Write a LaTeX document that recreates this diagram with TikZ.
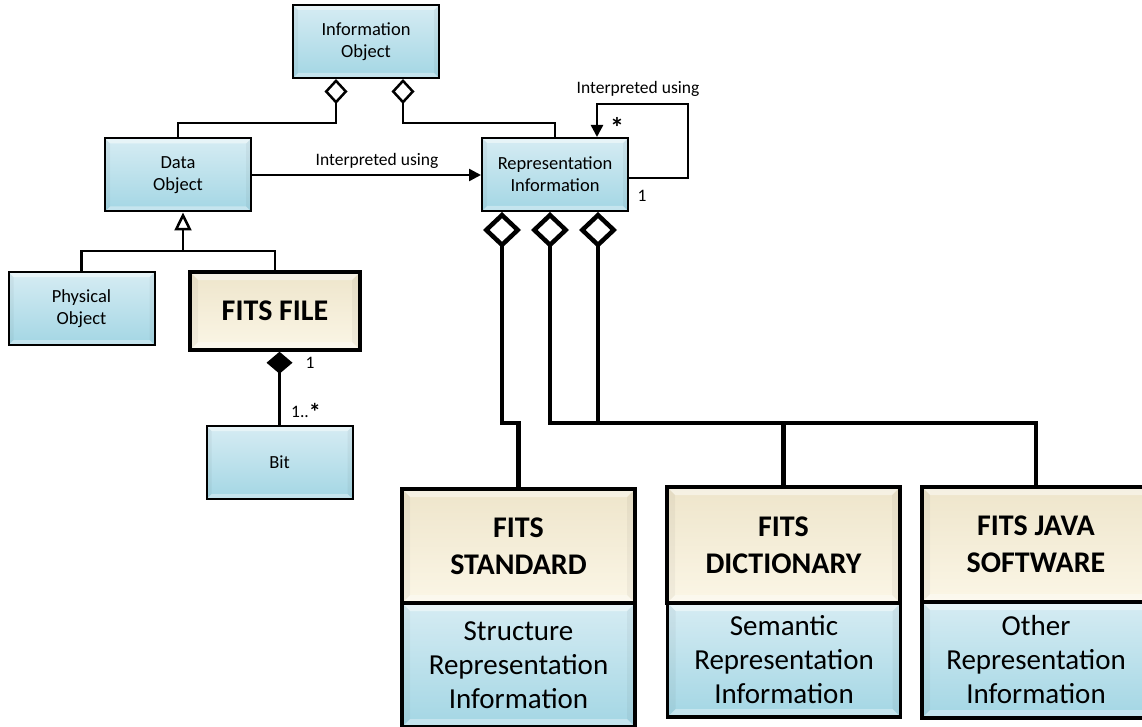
\documentclass[tikz,border=0pt]{standalone}
\usepackage{fontspec}
\setmainfont{Carlito}
\usetikzlibrary{arrows.meta,calc}

\definecolor{bluetop}{RGB}{214,236,243}
\definecolor{bluebot}{RGB}{163,214,228}
\definecolor{beigetop}{RGB}{238,229,203}
\definecolor{beigebot}{RGB}{251,246,230}

\newcommand\lblfont{\fontsize{17.5}{21}\selectfont}
\newcommand\boxfont{\fontsize{18.5}{22}\selectfont}
\newcommand\bigboldfont{\fontsize{30}{37}\selectfont\bfseries}
\newcommand\bigfont{\fontsize{29}{34}\selectfont}

\tikzset{
  bevel/.style={path picture={
    \path (path picture bounding box.north west) coordinate (bvNW)
          (path picture bounding box.north east) coordinate (bvNE)
          (path picture bounding box.south west) coordinate (bvSW)
          (path picture bounding box.south east) coordinate (bvSE);
    \fill[white,opacity=.45] (bvNW) -- (bvNE) -- ([shift={(-#1,-#1)}]bvNE) -- ([shift={(#1,-#1)}]bvNW) -- cycle;
    \fill[white,opacity=.35] (bvSW) -- (bvSE) -- ([shift={(-#1,#1)}]bvSE) -- ([shift={(#1,#1)}]bvSW) -- cycle;
    \fill[black,opacity=.04] (bvNW) -- (bvSW) -- ([shift={(#1,#1)}]bvSW) -- ([shift={(#1,-#1)}]bvNW) -- cycle;
    \fill[black,opacity=.04] (bvNE) -- (bvSE) -- ([shift={(-#1,#1)}]bvSE) -- ([shift={(-#1,-#1)}]bvNE) -- cycle;
  }},
  cls/.style={rectangle, draw=black, line width=2pt, top color=bluetop, bottom color=bluebot,
    minimum width=146pt, minimum height=73pt, inner sep=0pt, align=center, font=\boxfont, bevel=5pt},
  fitsbox/.style={rectangle, draw=black, line width=4pt, top color=beigetop, bottom color=beigebot,
    minimum width=233pt, inner sep=0pt, align=center, font=\bigboldfont, bevel=8pt},
  kindbox/.style={rectangle, draw=black, line width=3.5pt, top color=bluetop, bottom color=bluebot,
    minimum width=233pt, inner sep=0pt, align=center, font=\bigfont, bevel=8pt},
  conn/.style={draw=black, line width=2.5pt},
  agg/.style={conn, {Diamond[open,length=25pt,width=23pt]}-},
  assoc/.style={conn, -{Triangle[length=12pt,width=12pt]}},
  gen/.style={conn, -{Triangle[open,length=18pt,width=17pt]}},
  comp/.style={conn, {Diamond[length=22pt,width=26pt]}-},
  bigconn/.style={draw=black, line width=4.5pt},
  bigagg/.style={bigconn, {Diamond[open,length=36pt,width=38pt]}-},
  lbl/.style={font=\lblfont, inner sep=0pt},
}

\begin{document}
\begin{tikzpicture}[x=1pt,y=-1pt]
\useasboundingbox (0,0) rectangle (1142,727);

% classes
\node[cls] (io) at (366,41.5) {Information\\Object};
\node[cls] (do) at (178,175) {Data\\Object};
\node[cls] (ri) at (555,174.5) {Representation\\Information};
\node[cls] (po) at (81.5,308.5) {Physical\\Object};
\node[fitsbox, minimum width=170pt, minimum height=78pt, line width=3.5pt] (ff) at (275,311) {FITS FILE};
\node[cls] (bit) at (279.5,462.5) {Bit};

% FITS representation information
\node[fitsbox, minimum height=114pt] (fs) at (518.5,546) {FITS\\STANDARD};
\node[kindbox, minimum height=124pt] (fsr) at (518.5,665) {Structure\\Representation\\Information};
\node[fitsbox, minimum height=116pt] (fd) at (783.5,545) {FITS\\DICTIONARY};
\node[kindbox, minimum height=114pt] (fdr) at (784,660) {Semantic\\Representation\\Information};
\node[fitsbox, minimum height=115pt, minimum width=228pt] (fj) at (1036,544.5) {FITS JAVA\\SOFTWARE};
\node[kindbox, minimum height=116pt, minimum width=228pt] (fjr) at (1036,660) {Other\\Representation\\Information};

% aggregation into the information object
\coordinate (ioL) at ($(io.south)+(-30,0)$);
\coordinate (ioR) at ($(io.south)+(37,0)$);
\draw[agg] (ioL) -- ++(0,44) -| (do.north);
\draw[agg] (ioR) -- ++(0,44) -| (ri.north);

% interpretation
\draw[assoc] (do.east) -- (do.east -| ri.west);
\node[lbl] (lblA) at (377,161) {Interpreted using};

\coordinate (selfA) at (688,178);
\coordinate (selfB) at (688,104);
\coordinate (selfC) at ($(ri.north)+(42,0)$);
\draw[assoc] (ri.east |- selfA) -- (selfA) -- (selfB) -| (selfC);
\node[lbl] (lblB) at (638,89) {Interpreted using};
\node[inner sep=0pt, font=\fontsize{28}{28}\selectfont\bfseries] (starA) at (617,127) {*};
\node[lbl] (oneA) at (642,196) {1};

% generalisation
\coordinate (gj) at (183,251);
\draw[conn] (po.north) |- (gj);
\draw[conn] (ff.north) |- (gj);
\draw[gen] (gj) -- (gj |- do.south);

% composition
\draw[comp] (ff.south -| bit.north) -- (bit.north);
\node[lbl] (oneB) at (310,363) {1};
\node[lbl, anchor=base west] (manyB) at (291,417) {1..\raisebox{-3pt}{\fontsize{24}{24}\selectfont\bfseries *}};

% kinds of representation information
\coordinate (bus) at (0,423);
\coordinate (riA) at ($(ri.south)+(-53,0)$);
\coordinate (riB) at ($(ri.south)+(-5,0)$);
\coordinate (riC) at ($(ri.south)+(43,0)$);
\draw[bigagg] (riA) -- (riA |- bus) -| (fs.north);
\draw[bigagg] (riB) |- (fj.north |- bus) -- (fj.north);
\draw[bigagg] (riC) -- (riC |- bus);
\draw[bigconn] (fd.north |- bus) -- (fd.north);
\end{tikzpicture}
\end{document}
